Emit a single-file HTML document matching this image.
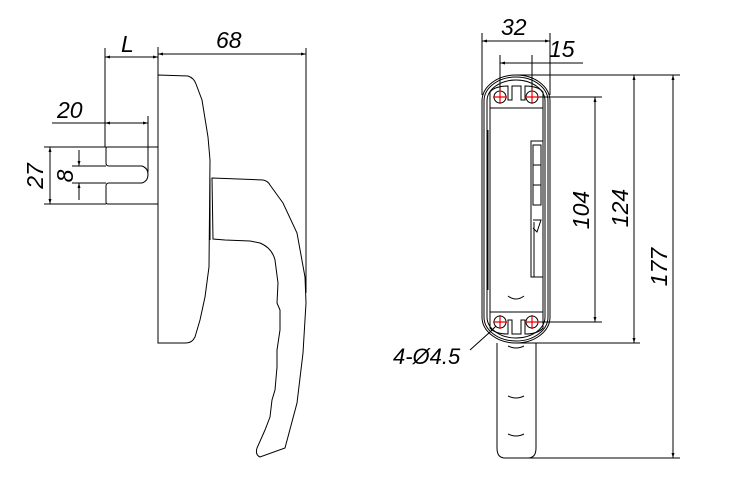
<!DOCTYPE html>
<html><head><meta charset="utf-8"><style>
html,body{margin:0;padding:0;background:#fff}
svg{display:block}
text{font-family:"Liberation Sans",sans-serif;font-style:italic;fill:#000}
</style></head><body>
<svg width="753" height="503" viewBox="0 0 753 503" xmlns="http://www.w3.org/2000/svg">
<defs>
<marker id="a" viewBox="0 0 10 6" refX="10" refY="3" markerWidth="6" markerHeight="3" orient="auto-start-reverse" markerUnits="userSpaceOnUse"><path d="M0,0 L10,3 L0,6z" fill="#000"/></marker>
</defs>
<g fill="none" stroke="#000" stroke-width="1">
<path d="M158,75 L188,76 Q194,78 196,84 L202,100 L208,137 L210,160 L209,267 L205,297 L200,320 L195,337 Q192,343 186,343 L158,343 Z"/>
<path d="M212,178 L263,180 Q268,181 270,185 L283,203 L297,233 L305,277 L306,303 L303,353 L297,403 L285,448 L260,457 Q255,455 257,448 L265,430 L270,417 L272,400 L275,390 L277,367 L277,350 L280,330 L280,310 L277,303 L278,283 L275,260 Q272,248 260,243 L250,241 L225,240 L213,239 Z"/>
<line x1="210" y1="178" x2="210" y2="240"/>
<path d="M158,147 L107,147 Q106,147 106,149 L106,163 Q106,166 109,166 L142,166 Q148,168 148,174.5 Q148,181 142,183 L109,183 Q106,183 106,186 L106,202 Q106,204 108,204 L158,204"/>
<line x1="158" y1="47" x2="158" y2="75"/>
<line x1="105" y1="48" x2="105" y2="147"/>
<line x1="306" y1="48" x2="306" y2="293"/>
<line x1="105" y1="57" x2="158" y2="57" marker-start="url(#a)" marker-end="url(#a)"/>
<line x1="158" y1="54" x2="306" y2="54" marker-start="url(#a)" marker-end="url(#a)"/>
<line x1="52" y1="123" x2="148" y2="123"/>
<line x1="105" y1="123" x2="148" y2="123" marker-start="url(#a)" marker-end="url(#a)"/>
<line x1="148" y1="116" x2="148" y2="172"/>
<line x1="44" y1="147" x2="106" y2="147"/>
<line x1="44" y1="204" x2="106" y2="204"/>
<line x1="50" y1="147" x2="50" y2="204" marker-start="url(#a)" marker-end="url(#a)"/>
<line x1="72" y1="166" x2="106" y2="166"/>
<line x1="72" y1="183" x2="106" y2="183"/>
<line x1="79" y1="150" x2="79" y2="166" marker-end="url(#a)"/>
<line x1="79" y1="200" x2="79" y2="183" marker-end="url(#a)"/>
<rect x="482" y="75" width="68" height="268" rx="34" ry="26"/>
<rect x="484" y="77" width="64" height="264" rx="32" ry="24"/>
<rect x="487" y="80" width="58" height="258" rx="29" ry="21"/>
<path d="M490,108 L490,312 L543,312 L543,108"/>
<path d="M488,130 L488,290 M545,130 L545,290"/>
<path d="M490,108 L490,92 Q495,86 508,86 L508,100 L512,100 L512,86 L521,86 L521,100 L525,100 L525,86 Q538,86 543,92 L543,108 Z"/>
<path d="M490,312 L490,328 Q495,334 508,334 L508,320 L512,320 L512,334 L521,334 L521,320 L525,320 L525,334 Q538,334 543,328 L543,312"/>
<circle cx="500" cy="97" r="6"/><circle cx="532" cy="97" r="6"/>
<circle cx="500" cy="322" r="6"/><circle cx="532" cy="322" r="6"/>
<rect x="531" y="141" width="12" height="136"/>
<rect x="533" y="145" width="8" height="60"/>
<line x1="533" y1="165" x2="541" y2="165"/><line x1="533" y1="185" x2="541" y2="185"/>
<path d="M533,220 L541,220 L537,232 L533,228 M534,222 L534,277"/>
<path d="M508,296 Q516,302 524,296"/>
<path d="M497,343 L497,448 Q497,458 505,458 L528,458 Q536,458 536,448 L536,343"/>
<path d="M508,346 Q516,350 524,346"/>
<path d="M508,396 Q516,400 524,396"/>
<path d="M508,434 Q516,438 524,434"/>
<line x1="482" y1="33" x2="482" y2="95"/>
<line x1="550" y1="33" x2="550" y2="95"/>
<line x1="482" y1="41" x2="550" y2="41" marker-start="url(#a)" marker-end="url(#a)"/>
<line x1="500" y1="55" x2="500" y2="97"/>
<line x1="532" y1="55" x2="532" y2="97"/>
<line x1="500" y1="63" x2="532" y2="63" marker-start="url(#a)"/>
<line x1="532" y1="63" x2="583" y2="63"/>
<line x1="516" y1="75" x2="680" y2="75"/>
<line x1="532" y1="97" x2="602" y2="97"/>
<line x1="532" y1="322" x2="602" y2="322"/>
<line x1="516" y1="343" x2="640" y2="343"/>
<line x1="516" y1="458" x2="680" y2="458"/>
<line x1="595" y1="97" x2="595" y2="322" marker-start="url(#a)" marker-end="url(#a)"/>
<line x1="634" y1="75" x2="634" y2="343" marker-start="url(#a)" marker-end="url(#a)"/>
<line x1="673" y1="75" x2="673" y2="458" marker-start="url(#a)" marker-end="url(#a)"/>
<path d="M470,350 L490,332 L496,326"/>
</g>
<g stroke="#e00" stroke-width="1.2">
<path d="M493,97h14M500,90v14M525,97h14M532,90v14M493,322h14M500,315v14M525,322h14M532,315v14"/>
</g>
<g font-size="23">
<text x="121" y="52">L</text>
<text x="216" y="48">68</text>
<text x="57" y="118">20</text>
<text x="501" y="35">32</text>
<text x="549" y="57">15</text>
<text transform="translate(43,176) rotate(-90)" text-anchor="middle">27</text>
<text transform="translate(73,176) rotate(-90)" text-anchor="middle">8</text>
<text transform="translate(589,210) rotate(-90)" text-anchor="middle">104</text>
<text transform="translate(628,208) rotate(-90)" text-anchor="middle">124</text>
<text transform="translate(667,267) rotate(-90)" text-anchor="middle">177</text>
<text x="393" y="364" font-size="22">4-Ø4.5</text>
</g>
</svg>
</body></html>
